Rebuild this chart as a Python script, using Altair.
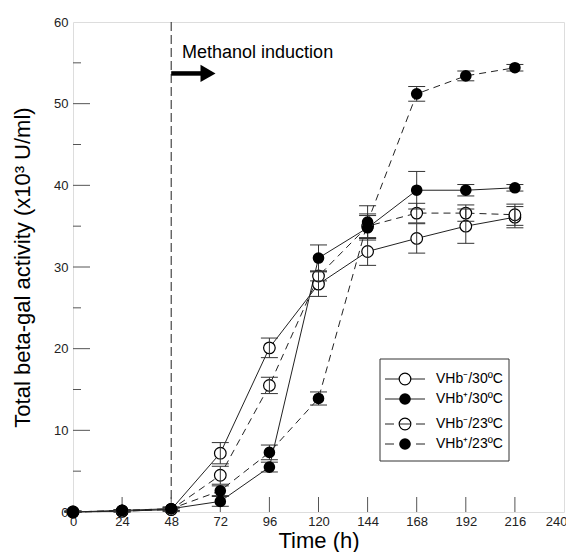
import altair as alt
import pandas as pd

# ---------------- data ----------------
times = [0, 24, 48, 72, 96, 120, 144, 168, 192, 216]
series_names = ["VHb⁻/30ºC", "VHb⁺/30ºC", "VHb⁻/23ºC", "VHb⁺/23ºC"]

vhb_minus_30 = [0.0, 0.1, 0.3, 7.2, 20.1, 27.9, 31.9, 33.5, 35.0, 36.1]
vhb_minus_30_err = [0.1, 0.1, 0.2, 1.3, 1.2, 1.5, 1.7, 1.8, 2.1, 1.3]
vhb_plus_30 = [0.0, 0.2, 0.4, 1.3, 5.5, 31.1, 34.8, 39.4, 39.4, 39.7]
vhb_plus_30_err = [0.1, 0.1, 0.2, 0.6, 0.6, 1.6, 1.5, 2.3, 0.7, 0.4]
vhb_minus_23 = [0.0, 0.1, 0.3, 4.5, 15.5, 28.9, 35.0, 36.6, 36.6, 36.4]
vhb_minus_23_err = [0.1, 0.1, 0.2, 1.1, 1.0, 0.6, 1.5, 1.2, 1.0, 1.3]
vhb_plus_23 = [0.0, 0.2, 0.4, 2.6, 7.3, 13.9, 35.5, 51.2, 53.4, 54.4]
vhb_plus_23_err = [0.1, 0.1, 0.2, 0.6, 0.9, 0.8, 2.0, 0.9, 0.6, 0.4]

x_tick_values = [0, 24, 48, 72, 96, 120, 144, 168, 192, 216, 240]
y_tick_values = [0, 10, 20, 30, 40, 50, 60]
y_minor_values = [5, 15, 25, 35, 45, 55]
induction_time = [48]
annotation_text = ["Methanol induction"]
x_title = "Time (h)"
y_title = "Total beta-gal activity (x10³ U/ml)"

# ---------------- styles ----------------
FONT = "Liberation Sans"
W, H = 491, 490
styles = {
    "VHb⁻/30ºC": dict(filled=False, dashed=False),
    "VHb⁺/30ºC": dict(filled=True, dashed=False),
    "VHb⁻/23ºC": dict(filled=False, dashed=True),
    "VHb⁺/23ºC": dict(filled=True, dashed=True),
}
DASH = [7, 5]
PT_SIZE = 135

values_by_series = {
    "VHb⁻/30ºC": (vhb_minus_30, vhb_minus_30_err),
    "VHb⁺/30ºC": (vhb_plus_30, vhb_plus_30_err),
    "VHb⁻/23ºC": (vhb_minus_23, vhb_minus_23_err),
    "VHb⁺/23ºC": (vhb_plus_23, vhb_plus_23_err),
}

rows = []
for name in series_names:
    vals, errs = values_by_series[name]
    for t, v, e in zip(times, vals, errs):
        rows.append({"series": name, "time": t, "value": v,
                     "lo": max(v - e, 0), "hi": v + e})
df = pd.DataFrame(rows)

x_scale = alt.Scale(domain=[0, 240], nice=False, zero=False)
y_scale = alt.Scale(domain=[0, 60], nice=False, zero=False)
x_axis = alt.Axis(values=x_tick_values, ticks=False, tickSize=0, domain=False,
                  grid=False, labelFontSize=13, labelFont=FONT, labelColor="#222",
                  labelPadding=3, labelFlush=False, labelOverlap=False,
                  labelAlign=alt.condition("datum.value == 240",
                                           alt.value("right"), alt.value("center")),
                  labelOffset=alt.condition("datum.value == 240",
                                            alt.value(3), alt.value(0)),
                  title=x_title, titleFont=FONT, titleFontSize=22,
                  titleFontWeight="normal", titleColor="#000",
                  titleY=18, titleBaseline="top")
y_axis = alt.Axis(values=y_tick_values, ticks=False, tickSize=0, domain=False,
                  grid=False, labelFontSize=13, labelFont=FONT, labelColor="#222",
                  labelPadding=5, labelFlush=False, labelOverlap=False,
                  title=y_title, titleFont=FONT, titleFontSize=22,
                  titleFontWeight="normal", titleColor="#000",
                  titleAngle=-90, titleX=-51, titleY=245, titleBaseline="middle")


def X(field="time"):
    return alt.X(f"{field}:Q", scale=x_scale, axis=x_axis)


def Y(field="value"):
    return alt.Y(f"{field}:Q", scale=y_scale, axis=y_axis)


layers = []

# induction line
ind_df = pd.DataFrame({"time": induction_time})
layers.append(
    alt.Chart(ind_df).mark_rule(color="#222", strokeWidth=1, strokeDash=[9, 4])
    .encode(x=X(), y=alt.value(0), y2=alt.value(H))
)

# inward ticks
xt_df = pd.DataFrame({"time": x_tick_values[1:-1]})
layers.append(
    alt.Chart(xt_df).mark_rule(color="#555", strokeWidth=1)
    .encode(x=X(), y=alt.value(H), y2=alt.value(H - 15))
)
yt_df = pd.DataFrame({"value": y_tick_values[1:-1]})
layers.append(
    alt.Chart(yt_df).mark_rule(color="#555", strokeWidth=1)
    .encode(y=Y(), x=alt.value(0), x2=alt.value(17))
)
ym_df = pd.DataFrame({"value": y_minor_values})
layers.append(
    alt.Chart(ym_df).mark_rule(color="#555", strokeWidth=1)
    .encode(y=Y(), x=alt.value(0), x2=alt.value(8))
)

# series lines
for name in series_names:
    st = styles[name]
    sub = df[df.series == name]
    kw = dict(color="#222", strokeWidth=1)
    if st["dashed"]:
        kw["strokeDash"] = DASH
    layers.append(
        alt.Chart(sub).mark_line(**kw).encode(x=X(), y=Y(), detail="series:N")
    )

# open circles (white fill)
for name in series_names:
    if styles[name]["filled"]:
        continue
    sub = df[df.series == name]
    layers.append(
        alt.Chart(sub).mark_point(shape="circle", fill="white", stroke="black",
                                  strokeWidth=1.2, size=PT_SIZE, opacity=1)
        .encode(x=X(), y=Y())
    )

# error bars
layers.append(
    alt.Chart(df).mark_rule(color="#333", strokeWidth=1)
    .encode(x=X(), y=Y("lo"), y2="hi:Q")
)
for f in ["lo", "hi"]:
    layers.append(
        alt.Chart(df).mark_rule(color="#333", strokeWidth=1,
                                xOffset=-8.5, x2Offset=8.5)
        .encode(x=X(), x2="time:Q", y=Y(f))
    )

# filled circles
for name in series_names:
    if not styles[name]["filled"]:
        continue
    sub = df[df.series == name]
    layers.append(
        alt.Chart(sub).mark_point(shape="circle", filled=True, color="black",
                                  size=PT_SIZE, opacity=1)
        .encode(x=X(), y=Y())
    )

# annotation text + arrow
ann_df = pd.DataFrame({"time": [53.3], "value": [55.6], "label": annotation_text})
layers.append(
    alt.Chart(ann_df).mark_text(align="left", baseline="alphabetic", font=FONT,
                                fontSize=18, color="#000")
    .encode(x=X(), y=Y(), text="label:N")
)
arrow_df = pd.DataFrame({"time": [48], "end": [63.0], "value": [53.7]})
layers.append(
    alt.Chart(arrow_df).mark_rule(color="black", strokeWidth=4.5)
    .encode(x=X(), x2="end:Q", y=Y())
)
head_df = pd.DataFrame({"time": [66.0], "value": [53.7]})
layers.append(
    alt.Chart(head_df).mark_point(shape="triangle-right", filled=True,
                                  color="black", size=300, opacity=1)
    .encode(x=X(), y=Y())
)

# manual legend (pixel positions relative to plot area)
one = pd.DataFrame({"k": [0]})
layers.append(
    alt.Chart(one).mark_rect(fill="white", stroke="#333", strokeWidth=1)
    .encode(x=alt.value(307), x2=alt.value(436), y=alt.value(337), y2=alt.value(439))
)
legend_rows = [357, 377, 402, 422]
lx0, lx1, lc, ltext = 312, 352, 332, 363
for name, ry in zip(series_names, legend_rows):
    st = styles[name]
    if st["dashed"]:
        for a, b in [(lx0, lx0 + 9), (lx1 - 9, lx1)]:
            layers.append(
                alt.Chart(one).mark_rule(color="#222", strokeWidth=1)
                .encode(x=alt.value(a), x2=alt.value(b), y=alt.value(ry))
            )
    else:
        layers.append(
            alt.Chart(one).mark_rule(color="#222", strokeWidth=1)
            .encode(x=alt.value(lx0), x2=alt.value(lx1), y=alt.value(ry))
        )
    if st["filled"]:
        layers.append(
            alt.Chart(one).mark_point(shape="circle", filled=True, color="black",
                                      size=PT_SIZE, opacity=1)
            .encode(x=alt.value(lc), y=alt.value(ry))
        )
    else:
        layers.append(
            alt.Chart(one).mark_point(shape="circle", fill="white", stroke="black",
                                      strokeWidth=1.2, size=PT_SIZE, opacity=1)
            .encode(x=alt.value(lc), y=alt.value(ry))
        )
        if st["dashed"]:
            layers.append(
                alt.Chart(one).mark_rule(color="#222", strokeWidth=1)
                .encode(x=alt.value(lc - 6), x2=alt.value(lc + 6), y=alt.value(ry))
            )
    layers.append(
        alt.Chart(one).mark_text(align="left", baseline="middle", font=FONT,
                                 fontSize=14, color="#000")
        .encode(x=alt.value(ltext), y=alt.value(ry), text=alt.value(name))
    )

chart = (
    alt.layer(*layers)
    .properties(width=W, height=H,
                autosize=alt.AutoSizeParams(type="none"),
                padding={"left": 65, "top": 14, "right": 2, "bottom": 40})
    .configure_view(stroke="#222", strokeWidth=1, fill="white")
    .configure(background="white")
)

chart.save("out.html", embed_options={"renderer": "svg", "actions": False})
